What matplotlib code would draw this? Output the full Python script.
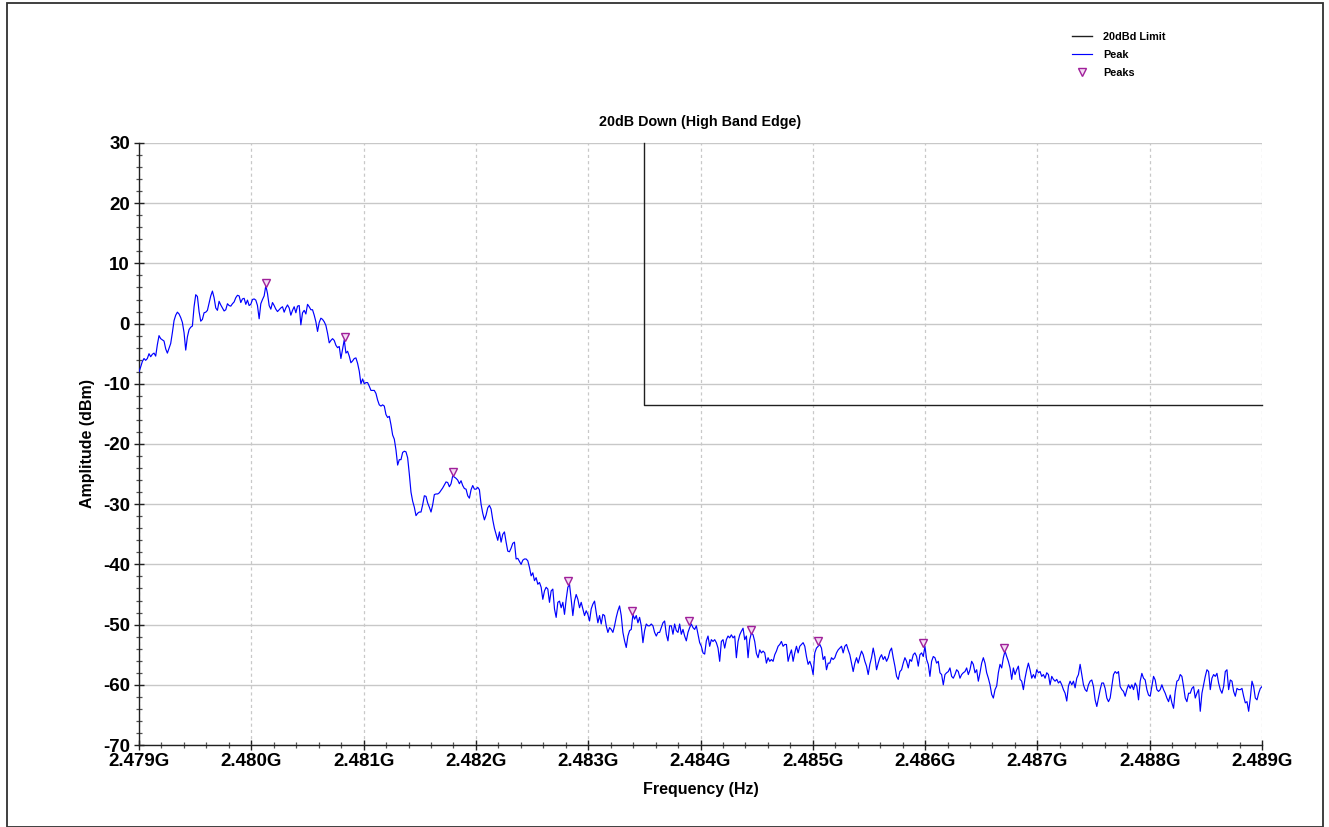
import numpy as np
import matplotlib.pyplot as plt
from matplotlib.ticker import MultipleLocator, FuncFormatter
from matplotlib.transforms import ScaledTranslation
from matplotlib.patches import Rectangle

plt.rcParams['font.family'] = ['Liberation Sans', 'DejaVu Sans']
plt.rcParams['font.weight'] = 'bold'
plt.rcParams['axes.unicode_minus'] = False

# Sweep span (Hz)
f_start = 2.479e9
f_stop = 2.489e9

# Max-hold trace in dBm, one value per sweep point, low to high frequency
peak_dbm = [
    -8.0, -7.2, -6.3, -5.8, -6.1, -5.8, -5.0, -5.5, -5.1, -4.9, -5.4, -3.5, -2.0, -2.5, -2.7,
    -2.9, -4.2, -4.9, -4.1, -3.3, -1.5, 0.5, 1.4, 1.9, 1.6, 1.0, 0.2, -1.5, -4.4, -2.2,
    -1.0, -0.6, -0.4, 2.8, 4.8, 4.5, 2.0, 0.4, 0.7, 1.8, 1.9, 2.2, 3.4, 4.6, 5.4,
    4.3, 2.6, 2.2, 3.7, 3.1, 2.6, 2.1, 2.3, 3.3, 3.0, 2.9, 3.3, 3.6, 4.3, 4.7,
    4.6, 3.5, 4.1, 4.2, 3.2, 3.9, 3.0, 3.2, 4.0, 4.1, 3.9, 3.0, 0.8, 3.3, 4.0,
    4.6, 6.3, 5.0, 3.0, 2.4, 3.5, 3.0, 2.4, 2.0, 2.3, 2.6, 2.8, 1.9, 2.6, 3.1,
    2.6, 1.4, 2.2, 2.8, 1.8, 2.9, 3.0, -0.2, 1.8, 2.2, 1.6, 3.2, 2.8, 2.3, 2.3,
    1.4, 0.3, -1.3, 0.2, 0.9, 0.7, 0.3, -0.3, -1.6, -3.2,
    -2.8, -2.5, -2.8, -3.6, -4.0, -3.8, -5.8, -4.3, -2.7, -4.9, -4.6, -5.4, -6.5, -6.2, -5.8,
    -5.7, -6.6, -7.9, -10.0, -9.2, -10.0, -9.8, -9.8, -10.4, -11.1, -11.1, -11.1, -11.6, -12.7, -13.5,
    -13.7, -13.5, -13.7, -15.1, -15.6, -15.4, -16.8, -18.5, -19.2, -21.0, -23.5, -22.6, -22.6, -21.4, -21.2,
    -21.3, -22.3, -25.0, -28.0, -29.5, -30.5, -31.9, -31.5, -31.3, -31.3, -30.1, -28.6, -28.7, -29.8, -30.5,
    -31.3, -30.1, -28.4, -28.3, -28.3, -28.1, -27.7, -27.3, -26.8, -26.3, -26.4, -27.1, -26.6, -25.3, -25.5,
    -25.7, -26.0, -26.6, -26.1, -26.9, -27.4, -27.5, -28.6, -29.0, -27.6, -26.9, -27.5, -27.5, -27.2, -27.6,
    -30.0, -31.5, -32.6, -31.8, -30.6, -30.2, -30.8, -32.6, -34.0,
    -35.0, -36.0, -34.6, -36.3, -35.0, -34.6, -36.3, -37.8, -37.9, -37.3, -36.5, -36.3,
    -39.1, -39.0, -39.5, -40.0, -39.3, -39.1, -39.1, -39.4, -40.5,
    -41.9, -41.4, -42.7, -42.2, -43.3, -43.0, -43.8, -45.8, -44.4, -43.8, -44.1, -46.3, -44.4, -44.1, -47.4,
    -48.8, -46.3, -46.1, -47.2, -46.3, -48.3, -45.8, -43.8, -43.3, -45.8, -48.5, -46.1, -45.0, -45.8, -47.2,
    -46.3, -47.4, -48.5, -47.7, -48.3, -49.4, -47.4, -46.6, -46.1, -48.0, -49.7, -48.5, -49.9, -48.3, -48.5,
    -50.2, -51.3, -50.5, -50.8, -51.3, -50.2, -48.8, -47.7, -46.9, -48.5, -51.3, -52.7, -53.8, -51.9, -51.0,
    -50.8, -48.3, -49.1, -48.5, -49.7, -48.8, -50.2, -53.0, -51.0, -49.9, -50.2, -50.2, -49.9, -50.2, -51.3,
    -51.9, -51.3, -51.3, -50.5, -49.7, -49.4, -51.6, -52.7, -50.2, -50.2, -51.6, -49.9, -51.0, -51.3, -49.9,
    -51.6, -50.8, -51.9, -52.7, -51.3, -50.5, -49.9, -50.5, -50.8, -50.2, -51.6, -53.0, -53.6, -54.7, -54.9,
    -52.7, -51.9, -53.6,
    -52.5, -52.8, -52.5, -53.0, -53.9, -56.1, -52.8, -52.5, -53.9, -52.5, -51.9, -52.2, -51.7, -52.2, -51.9,
    -55.5, -52.8, -51.7, -51.1, -50.6, -52.5, -51.9, -55.5, -52.5, -51.4, -51.7, -52.8, -54.8, -55.5, -54.2,
    -54.7, -54.4, -54.7, -56.4, -55.5, -56.1, -55.8, -56.1, -55.0, -54.4, -53.6, -53.3, -52.8, -53.6, -53.3,
    -53.3, -56.1, -55.0, -54.2, -56.1, -54.7, -53.6, -54.7, -53.6, -53.3, -53.0, -53.6, -55.3, -56.6, -56.1,
    -56.9, -58.3, -54.7, -53.9, -53.6, -53.3, -53.9, -55.8, -55.3, -57.5, -56.4, -56.4, -55.5, -55.8, -55.5,
    -54.7, -54.2, -53.9, -53.6, -54.7, -53.6, -53.3, -54.2, -55.0, -56.4, -57.8, -56.4, -55.5, -56.4, -55.3,
    -54.4, -55.0, -56.1, -56.9, -58.3, -56.6, -55.5, -53.9, -55.3, -57.5, -56.4, -55.5, -55.0, -55.8, -55.3,
    -56.1, -55.5, -54.4, -53.9, -55.5, -56.9, -58.6, -59.1, -57.8, -57.5,
    -56.4, -55.5, -56.1, -57.2, -55.8, -56.1, -55.0, -54.7, -55.3, -56.9, -55.0, -54.7, -55.3, -53.6, -55.8,
    -56.6, -58.6, -56.1, -55.3, -55.5, -56.4, -56.1, -58.0, -58.3, -60.0, -58.3, -58.0, -57.8, -57.2, -58.6,
    -58.9, -58.3, -57.5, -57.8, -58.9, -58.3, -58.0, -57.8, -57.2, -58.3, -57.5, -56.1, -56.6, -58.0, -57.5,
    -59.4, -58.0, -56.4, -55.5, -56.4, -58.0, -58.9, -60.0, -61.6, -62.2, -60.8, -60.2, -58.0, -56.6, -57.2,
    -55.5, -54.4, -55.3, -56.1, -57.2, -59.1, -57.2, -58.3, -57.5, -56.9, -59.1, -59.4, -60.8, -58.9, -57.5,
    -56.4, -57.5, -58.9, -58.3, -58.9, -57.5, -58.0, -57.8, -58.6, -58.3, -58.9, -58.0, -58.3, -60.0, -58.6,
    -59.1, -59.4, -59.1, -59.7, -59.4, -60.0, -60.8, -61.4, -62.7, -60.2, -59.4, -60.0, -59.4, -60.5, -58.9,
    -58.3, -56.6, -58.3, -60.0, -60.8, -61.1, -60.0, -59.4,
    -59.2, -60.3, -62.5, -63.6, -62.2, -60.8, -59.7, -59.7, -60.6, -62.2, -62.8, -62.2, -60.3, -58.3, -57.8,
    -58.1, -57.8, -60.3, -60.8, -61.1, -61.9, -60.8, -60.0, -60.6, -60.0, -60.8, -59.7, -60.3, -62.5, -59.4,
    -58.1, -58.9, -59.2, -60.8, -61.7, -61.9, -60.3, -58.6, -59.2, -60.8, -61.1, -60.8, -60.0, -60.8, -61.4,
    -62.2, -62.8, -61.7, -63.0, -63.9, -61.1, -59.4, -59.2, -58.3, -58.6, -60.3, -62.2, -62.8, -61.4, -61.4,
    -60.6, -60.3, -62.2, -61.4, -60.8, -64.4, -61.4, -60.0, -58.6, -57.5, -57.8, -60.8, -58.9, -58.3, -58.6,
    -58.1, -59.7, -60.8, -61.4, -60.3, -57.8, -57.5, -60.8, -59.2, -59.4, -61.1, -61.9, -60.6, -60.8, -60.8,
    -60.6, -61.9, -63.0, -62.8, -64.4, -62.2, -59.4, -60.3, -62.2, -62.5, -61.4, -60.6, -60.3,
]

# Peaks picked on the trace
peaks_ghz = [2.48013, 2.48083, 2.48180, 2.48282, 2.48339, 2.48390, 2.48445, 2.48505, 2.48598, 2.48670]
peaks_dbm = [6.3, -2.7, -25.1, -43.3, -48.3, -49.9, -51.4, -53.3, -53.6, -54.4]

# 20 dB down limit above the band edge
band_edge_ghz = 2.4835
limit_dbm = -13.5

y_min, y_max = -70, 30

freq = np.linspace(f_start, f_stop, len(peak_dbm))

fig = plt.figure(figsize=(13.29, 8.27), dpi=100)
ax = fig.add_axes([139 / 1329, 82 / 827, 1123 / 1329, 602 / 827])

grid_c = '#c8c8c8'
ax.set_axisbelow(True)
ax.grid(axis='y', which='major', color=grid_c, lw=1.0, ls='-')
ax.grid(axis='x', which='major', color=grid_c, lw=0.9, ls=(0, (2.5, 2.5)))

ax.plot([band_edge_ghz * 1e9, band_edge_ghz * 1e9, f_stop], [y_max, limit_dbm, limit_dbm],
        color='#202020', lw=1.0, label='20dBd Limit', zorder=3, clip_on=False)
ax.plot(freq, peak_dbm, color='#0000ff', lw=0.85, label='Peak', zorder=4)

# triangles sit just above each peak, tip on the trace
lift = ax.transData + ScaledTranslation(0, 2.2 / 72, fig.dpi_scale_trans)
ax.plot(np.array(peaks_ghz) * 1e9, peaks_dbm, ls='none', marker='v', ms=5.5,
        mfc='#f4dcf4', mec='#a0209a', mew=1.0, transform=lift, label='Peaks', zorder=5)

ax.set_xlim(f_start, f_stop)
ax.set_ylim(y_min, y_max)

ax.xaxis.set_major_locator(MultipleLocator(1e6))
ax.xaxis.set_minor_locator(MultipleLocator(2e5))
ax.yaxis.set_major_locator(MultipleLocator(10))
ax.yaxis.set_minor_locator(MultipleLocator(2))
ax.xaxis.set_major_formatter(FuncFormatter(lambda v, p: f'{v / 1e9:.3f}G'))

ax.tick_params(which='major', direction='inout', length=7, width=1.0, color='#202020',
               labelsize=13.5, pad=3)
ax.tick_params(which='minor', direction='inout', length=5, width=0.9, color='#505050')
ax.tick_params(axis='x', which='major', pad=2)

for s in ('top', 'right'):
    ax.spines[s].set_visible(False)
for s in ('left', 'bottom'):
    ax.spines[s].set_color('#202020')
    ax.spines[s].set_linewidth(1.0)

ax.set_xlabel('Frequency (Hz)', fontsize=11.5, fontweight='bold', labelpad=9)
ax.set_ylabel('Amplitude (dBm)', fontsize=11.5, fontweight='bold', labelpad=6)
ax.set_title('20dB Down (High Band Edge)', fontsize=10.3, fontweight='bold', pad=12)

fig.legend(loc='upper left', bbox_to_anchor=(1072 / 1329, 1 - 32 / 827), frameon=False,
           fontsize=7.8, handlelength=1.8, handletextpad=1.1, labelspacing=0.72,
           borderaxespad=0, borderpad=0)

fig.patches.append(Rectangle((7 / 1329, 0), 1316 / 1329, 824 / 827, transform=fig.transFigure,
                             fill=False, ec='#303030', lw=1.3))

fig.savefig('out.png', dpi=100)
